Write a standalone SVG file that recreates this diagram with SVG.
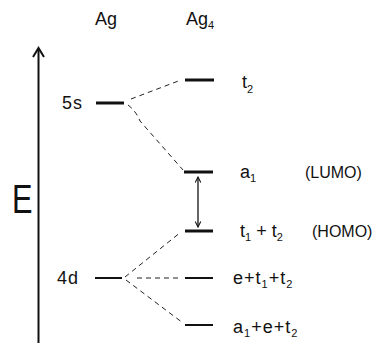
<svg xmlns="http://www.w3.org/2000/svg" width="372" height="343" viewBox="0 0 372 343">
<defs>
<style>
text{font-family:"Liberation Sans","DejaVu Sans",sans-serif;fill:#111;font-size:18px}
.f{letter-spacing:1px}
.small{font-size:16px}
.sub{font-size:11px}
.lv{stroke:#111;stroke-width:3;fill:none}
.lvt{stroke:#111;stroke-width:2;fill:none}
.dash{stroke:#222;stroke-width:1;stroke-dasharray:5 4;fill:none}
.ax{stroke:#111;stroke-width:2;fill:none}
</style>
<marker id="ah" viewBox="0 0 10 10" refX="9" refY="5" markerWidth="7" markerHeight="7" orient="auto-start-reverse" markerUnits="userSpaceOnUse">
<path d="M1,1 L9,5 L1,9" fill="none" stroke="#111" stroke-width="1.5"/>
</marker>
</defs>
<rect width="372" height="343" fill="#fff"/>

<g id="headers">
<text x="95" y="25">Ag</text>
<text x="186" y="25">Ag<tspan class="sub" dy="4">4</tspan></text>
</g>

<g id="axis">
<line class="ax" x1="38.5" y1="49" x2="38.5" y2="343"/>
<polyline class="ax" points="33,57 38.5,48 44,57"/>
<text x="12" y="213" style="font-size:41px" transform="translate(12 0) scale(0.75 1) translate(-12 0)">E</text>
</g>

<g id="level-5s">
<line class="lv" x1="96" y1="103" x2="124" y2="103"/>
<text class="f" x="62" y="109">5s</text>
</g>

<g id="level-4d">
<line class="lvt" x1="95" y1="278" x2="122" y2="278"/>
<text class="f" x="57" y="284">4d</text>
</g>

<g id="level-t2">
<line class="lv" x1="185" y1="80" x2="214" y2="80"/>
<text x="242" y="88">t<tspan class="sub" dy="5">2</tspan></text>
</g>

<g id="level-a1">
<line class="lv" x1="184" y1="172" x2="213" y2="172"/>
<text x="240" y="178">a<tspan class="sub" dy="4">1</tspan></text>
<text class="small" x="305" y="178">(LUMO)</text>
</g>

<g id="level-homo">
<line class="lv" x1="185" y1="231" x2="213" y2="231"/>
<text x="240" y="237">t<tspan class="sub" dy="4">1</tspan><tspan dy="-4"> + t</tspan><tspan class="sub" dy="4">2</tspan></text>
<text class="small" x="312" y="237">(HOMO)</text>
</g>

<g id="level-et1t2">
<line class="lvt" x1="185" y1="278" x2="213" y2="278"/>
<text class="f" x="233" y="284">e+t<tspan class="sub" dy="4">1</tspan><tspan dy="-4">+t</tspan><tspan class="sub" dy="4">2</tspan></text>
</g>

<g id="level-a1et2">
<line class="lvt" x1="185" y1="325" x2="213" y2="325"/>
<text class="f" x="233" y="333">a<tspan class="sub" dy="4">1</tspan><tspan dy="-4">+e+t</tspan><tspan class="sub" dy="4">2</tspan></text>
</g>

<g id="connectors">
<path class="dash" d="M131,99 L181,80"/>
<path class="dash" d="M128,105 Q136,111 140,121 L183,170"/>
<path class="dash" d="M125,277 L181,232"/>
<path class="dash" d="M137,278 L182,278"/>
<path class="dash" d="M126,280 L183,323"/>
<line stroke="#111" stroke-width="1.3" x1="198" y1="177" x2="198" y2="227" marker-start="url(#ah)" marker-end="url(#ah)"/>
</g>
</svg>
